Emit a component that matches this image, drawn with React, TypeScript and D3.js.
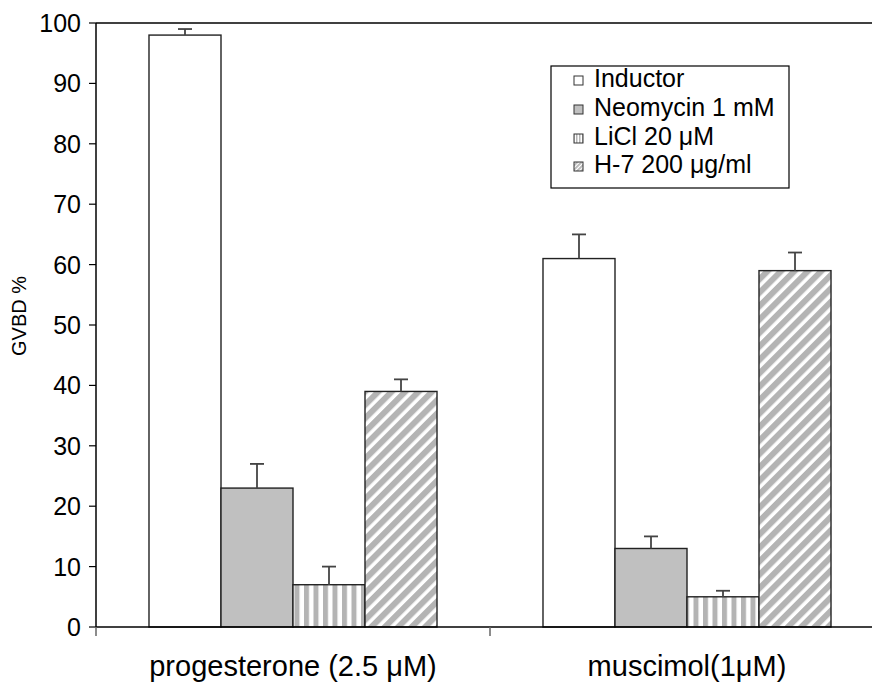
import React from 'react';
import * as d3 from 'd3';

const categories = ['progesterone (2.5 μM)', 'muscimol(1μM)'];
const seriesNames = ['Inductor', 'Neomycin 1 mM', 'LiCl 20 μM', 'H-7 200 μg/ml'];
const inductor = [98, 61];
const neomycin = [23, 13];
const licl = [7, 5];
const h7 = [39, 59];
const inductorErr = [1, 4];
const neomycinErr = [4, 2];
const liclErr = [3, 1];
const h7Err = [2, 3];
const yTicks = [0, 10, 20, 30, 40, 50, 60, 70, 80, 90, 100];

const W = 872;
const H = 684;
const left = 96;
const top = 23;
const bottom = 627;
const font = '"Liberation Sans", Arial, Helvetica, sans-serif';

const values = [inductor, neomycin, licl, h7];
const errors = [inductorErr, neomycinErr, liclErr, h7Err];
const fills = ['#ffffff', '#c0c0c0', 'url(#vstripe)', 'url(#dstripe)'];
const swatchFills = ['#ffffff', '#c0c0c0', 'url(#vstripeS)', 'url(#dstripeS)'];

const App = () => {
  const y = d3.scaleLinear().domain([0, 100]).range([bottom, top]);
  const x0 = d3.scaleBand().domain(categories).range([left, left + 2 * 394]).padding(0);
  const x1 = d3.scaleBand().domain(seriesNames).range([0, x0.bandwidth()])
    .paddingInner(0).paddingOuter(0.736);

  const bars = categories.flatMap((c, ci) =>
    seriesNames.map((s, si) => ({
      c, s, si,
      v: values[si][ci],
      e: errors[si][ci],
      x: (x0(c) as number) + (x1(s) as number),
      w: x1.bandwidth(),
    }))
  );

  const legendY = [87, 116, 145, 173];

  return (
    <svg width={W} height={H} style={{ position: 'absolute', left: 0, top: 0, background: '#fff' }}
      fontFamily={font}>
      <defs>
        <pattern id="vstripe" patternUnits="userSpaceOnUse" width={9.5} height={10}>
          <rect width={9.5} height={10} fill="#fff" />
          <rect width={5} height={10} fill="#b4b4b4" />
        </pattern>
        <pattern id="dstripe" patternUnits="userSpaceOnUse" width={9.5} height={10}
          patternTransform="rotate(45)">
          <rect width={9.5} height={10} fill="#fff" />
          <rect width={6} height={10} fill="#b4b4b4" />
        </pattern>
        <pattern id="vstripeS" patternUnits="userSpaceOnUse" width={3} height={10}>
          <rect width={3} height={10} fill="#fff" />
          <rect width={1.5} height={10} fill="#b4b4b4" />
        </pattern>
        <pattern id="dstripeS" patternUnits="userSpaceOnUse" width={3} height={10}
          patternTransform="rotate(45)">
          <rect width={3} height={10} fill="#fff" />
          <rect width={1.8} height={10} fill="#b4b4b4" />
        </pattern>
      </defs>

      {/* frame lines */}
      <line x1={left} x2={W} y1={top} y2={top} stroke="#000" strokeWidth={1.5} />
      <line x1={left} x2={left} y1={top} y2={bottom} stroke="#000" strokeWidth={1.5} />

      {/* bars */}
      {bars.map((b, i) => (
        <g key={i}>
          <rect x={b.x} y={y(b.v)} width={b.w} height={bottom - y(b.v)}
            fill={fills[b.si]} stroke="#222" strokeWidth={1.4} />
          <line x1={b.x + b.w / 2} x2={b.x + b.w / 2} y1={y(b.v)} y2={y(b.v + b.e)}
            stroke="#444" strokeWidth={1.8} />
          <line x1={b.x + b.w / 2 - 7} x2={b.x + b.w / 2 + 7} y1={y(b.v + b.e)} y2={y(b.v + b.e)}
            stroke="#444" strokeWidth={1.8} />
        </g>
      ))}

      <line x1={left} x2={W} y1={bottom} y2={bottom} stroke="#000" strokeWidth={1.5} />

      {/* y ticks */}
      {yTicks.map(t => (
        <g key={t}>
          <line x1={left - 7} x2={left} y1={y(t)} y2={y(t)} stroke="#000" strokeWidth={1.2} />
          <text x={81} y={y(t)} dy="0.36em" textAnchor="end" fontSize={25}>{t}</text>
        </g>
      ))}

      {/* x ticks */}
      {categories.map(c => (
        <line key={c} x1={x0(c)} x2={x0(c)} y1={bottom} y2={bottom + 9} stroke="#666" strokeWidth={1.5} />
      ))}
      {categories.map(c => (
        <text key={c} x={(x0(c) as number) + x0.bandwidth() / 2} y={676} textAnchor="middle" fontSize={29}>
          {c}
        </text>
      ))}

      <text transform="translate(26,316) rotate(-90)" textAnchor="middle" fontSize={20}>GVBD %</text>

      {/* legend */}
      <rect x={551} y={66} width={238} height={122} fill="#fff" stroke="#000" strokeWidth={1.2} />
      {seriesNames.map((s, i) => (
        <g key={s}>
          <rect x={574} y={legendY[i] - 11} width={9} height={9}
            fill={swatchFills[i]} stroke="#333" strokeWidth={1} />
          <text x={594} y={legendY[i]} fontSize={25}>{s}</text>
        </g>
      ))}
    </svg>
  );
};

export default App;
